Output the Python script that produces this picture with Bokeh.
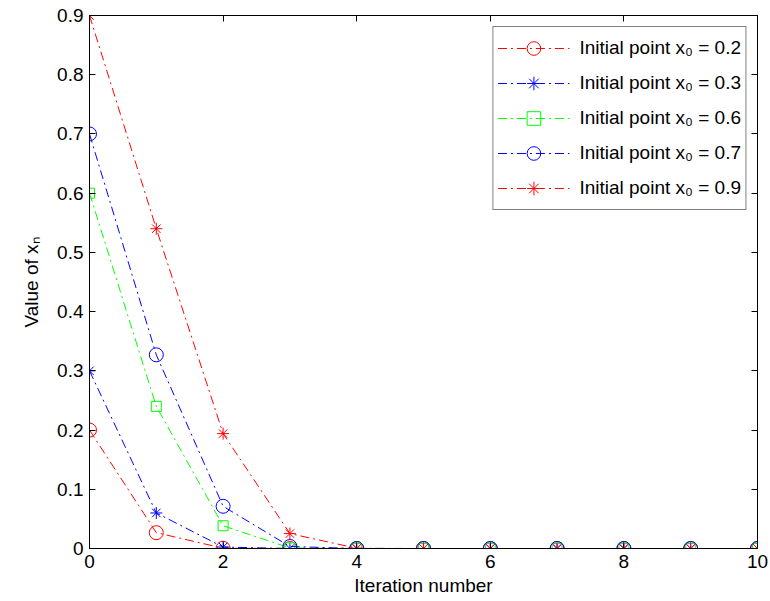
from bokeh.plotting import figure
from bokeh.models import LinearAxis, FixedTicker, Range1d
from bokeh.embed import file_html
from bokeh.resources import INLINE

iterations = list(range(11))
s02 = [0.2, 0.0267, 0.0005, 0, 0, 0, 0, 0, 0, 0, 0]
s03 = [0.3, 0.06, 0.0024, 0, 0, 0, 0, 0, 0, 0, 0]
s06 = [0.6, 0.24, 0.0384, 0.001, 0, 0, 0, 0, 0, 0, 0]
s07 = [0.7, 0.327, 0.0713, 0.0034, 0, 0, 0, 0, 0, 0, 0]
s09 = [0.9, 0.54, 0.194, 0.0252, 0.0004, 0, 0, 0, 0, 0, 0]
labels = ["Initial point x\u2080 = 0.2", "Initial point x\u2080 = 0.3",
          "Initial point x\u2080 = 0.6", "Initial point x\u2080 = 0.7",
          "Initial point x\u2080 = 0.9"]
x_ticks = [0, 2, 4, 6, 8, 10]
y_ticks = [0, 0.1, 0.2, 0.3, 0.4, 0.5, 0.6, 0.7, 0.8, 0.9]

FONT = "Liberation Sans"
FS = "19px"

p = figure(width=770, height=601, output_backend="svg", toolbar_location=None,
           x_range=Range1d(0, 10), y_range=Range1d(0, 0.9),
           min_border_left=89, min_border_right=13, min_border_top=15, min_border_bottom=53)
p.xgrid.visible = False
p.ygrid.visible = False
p.outline_line_color = "black"
p.outline_line_width = 1
p.background_fill_color = "white"
p.border_fill_color = "white"

for ax, ticks in ((p.xaxis[0], x_ticks), (p.yaxis[0], y_ticks)):
    ax.ticker = FixedTicker(ticks=ticks)
    ax.major_tick_in = 6
    ax.major_tick_out = 0
    ax.minor_tick_in = 0
    ax.minor_tick_out = 0
    ax.axis_line_color = "black"
    ax.major_tick_line_color = "black"
    ax.major_label_text_font = FONT
    ax.major_label_text_font_size = FS
    ax.major_label_text_color = "black"
    ax.axis_label_text_font = FONT
    ax.axis_label_text_font_size = FS
    ax.axis_label_text_font_style = "normal"
    ax.axis_label_text_color = "black"
p.xaxis[0].axis_label = "Iteration number"
p.yaxis[0].axis_label = "Value of x\u2099"
p.xaxis[0].axis_label_standoff = 4
p.yaxis[0].axis_label_standoff = 12
p.xaxis[0].major_label_standoff = 6
p.yaxis[0].major_label_standoff = 6

top = LinearAxis(ticker=FixedTicker(ticks=x_ticks),
                 major_label_overrides={t: "" for t in x_ticks},
                 major_tick_in=6, major_tick_out=0, minor_tick_in=0, minor_tick_out=0)
right = LinearAxis(ticker=FixedTicker(ticks=y_ticks),
                   major_label_overrides={t: "" for t in y_ticks},
                   major_tick_in=6, major_tick_out=0, minor_tick_in=0, minor_tick_out=0)
p.add_layout(top, "above")
p.add_layout(right, "right")

series = [
    (s02, "#ff0000", "circle", 14, labels[0]),
    (s03, "#0000ff", "asterisk", 12, labels[1]),
    (s06, "#00ff00", "square", 10, labels[2]),
    (s07, "#0000ff", "circle", 14, labels[3]),
    (s09, "#ff0000", "asterisk", 12, labels[4]),
]
for vals, col, mk, sz, lab in series:
    p.line(iterations, vals, line_color=col, line_width=1, line_dash="9 4 2 4", legend_label=lab)
    p.scatter(iterations, vals, marker=mk, size=sz, line_color=col, fill_color=None,
              line_width=1, legend_label=lab)

lg = p.legend[0]
lg.location = "top_right"
lg.margin = 11
lg.border_line_color = "black"
lg.border_line_width = 1
lg.background_fill_alpha = 1
lg.label_text_font = FONT
lg.label_text_font_size = FS
lg.label_text_color = "black"
lg.glyph_width = 72
lg.glyph_height = 34
lg.label_height = 20
lg.spacing = 1
lg.padding = 4
lg.label_standoff = 10

open("out.html", "w").write(file_html(p, INLINE))
